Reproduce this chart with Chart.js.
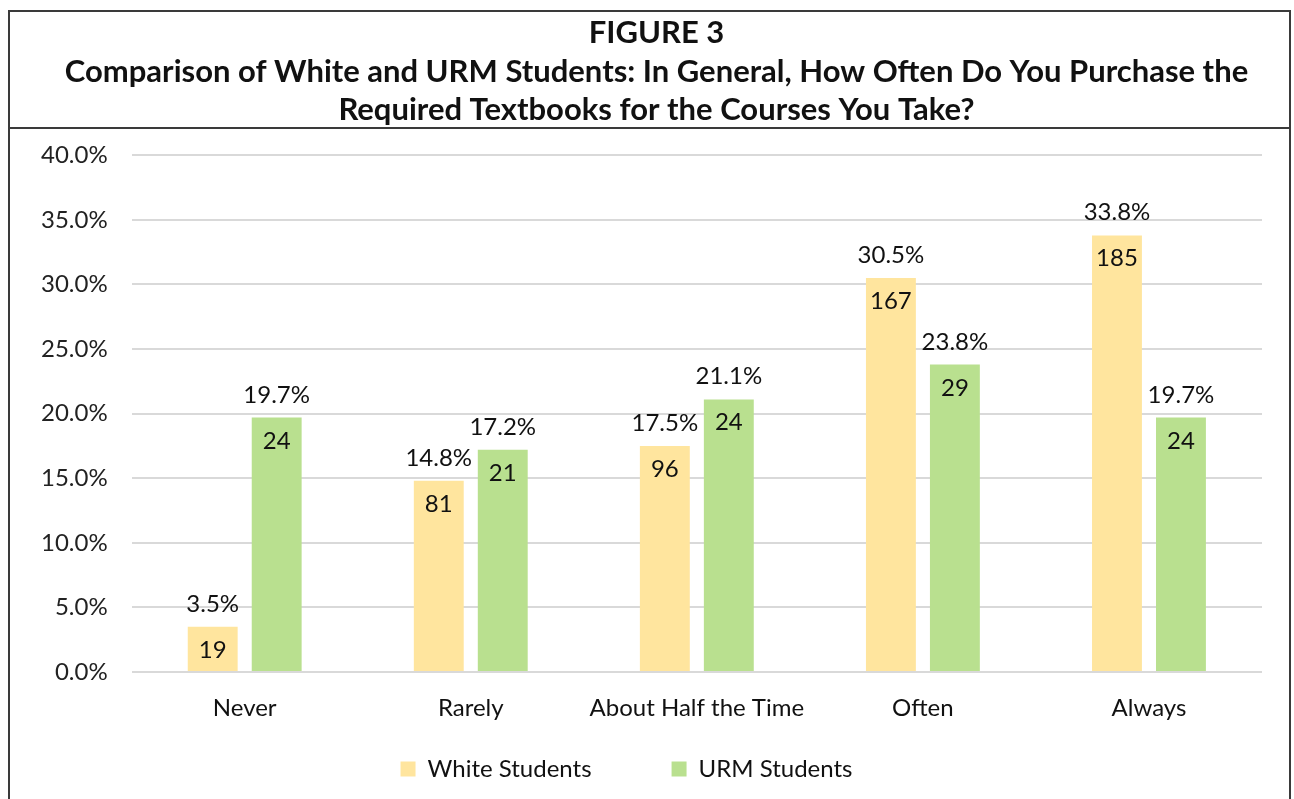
<!DOCTYPE html>
<html>
<head>
<meta charset="utf-8">
<script src="https://cdn.jsdelivr.net/npm/chart.js@4"></script>
<style>
  html, body { margin: 0; padding: 0; background: #fff; }
  #wrap { position: absolute; left: 0; top: 0; width: 1294px; height: 799px; }
</style>
</head>
<body>
<div id="wrap"><canvas id="barChart" width="1294" height="799"></canvas></div>
<script>
// Frecuencia de compra de libros de texto, por grupo de estudiantes
const categories = ['Never', 'Rarely', 'About Half the Time', 'Often', 'Always'];
const whitePct = [3.5, 14.8, 17.5, 30.5, 33.8];
const urmPct = [19.7, 17.2, 21.1, 23.8, 19.7];
const whiteCount = [19, 81, 96, 167, 185];
const urmCount = [24, 21, 24, 29, 24];
const yTicks = [0, 5, 10, 15, 20, 25, 30, 35, 40];

const FONT = 'Lato, "Open Sans", sans-serif';

// marco del cuadro del título
const framePlugin = {
    id: 'frame',
    afterLayout(chart) {
        // el eje x se reduce para que quepa la leyenda; se amplía su zona de recorte
        chart.scales.x.bottom += 70;
        // centrar el título en el marco y mover un poco la leyenda
        chart.titleBlock.left += 34;
        chart.legend.left -= 26;
    },
    afterDraw(chart) {
        const ctx = chart.ctx;
        ctx.save();
        ctx.strokeStyle = '#3a3a3a';
        ctx.lineWidth = 2;
        ctx.beginPath();
        ctx.moveTo(9, 799);
        ctx.lineTo(9, 11);
        ctx.lineTo(1290, 11);
        ctx.lineTo(1290, 799);
        ctx.moveTo(9, 128);
        ctx.lineTo(1290, 128);
        ctx.stroke();
        ctx.restore();
    }
};

// etiquetas: porcentaje encima de la barra, conteo dentro
const labelsPlugin = {
    id: 'barLabels',
    afterDatasetsDraw(chart) {
        const ctx = chart.ctx;
        const counts = [whiteCount, urmCount];
        ctx.save();
        ctx.font = '24px ' + FONT;
        ctx.fillStyle = '#111';
        ctx.textAlign = 'center';
        ctx.textBaseline = 'alphabetic';
        chart.data.datasets.forEach((ds, i) => {
            chart.getDatasetMeta(i).data.forEach((bar, j) => {
                ctx.fillText(ds.data[j].toFixed(1) + '%', bar.x, bar.y - 15);
                ctx.fillText(String(counts[i][j]), bar.x, bar.y + 31);
            });
        });
        ctx.restore();
    }
};

const ctx = document.getElementById('barChart').getContext('2d');
new Chart(ctx, {
    type: 'bar',
    data: {
        labels: categories,
        datasets: [
            {
                label: 'White Students',
                backgroundColor: '#FFE59E',
                data: whitePct,
            },
            {
                label: 'URM Students',
                backgroundColor: '#B9E08F',
                data: urmPct,
            },
        ]
    },
    options: {
        responsive: false,
        animation: false,
        categoryPercentage: 0.566,
        barPercentage: 0.78,
        layout: { padding: { left: 17, right: 32, top: 0, bottom: 8 } },
        plugins: {
            title: {
                display: true,
                text: [
                    'FIGURE 3',
                    'Comparison of White and URM Students: In General, How Often Do You Purchase the',
                    'Required Textbooks for the Courses You Take?'
                ],
                color: '#111',
                font: { family: FONT, size: 31, weight: 'bold', lineHeight: 1.24 },
                padding: { top: 14, bottom: 26 }
            },
            legend: {
                position: 'bottom',
                labels: {
                    color: '#111',
                    font: { family: FONT, size: 24 },
                    boxWidth: 15,
                    boxHeight: 15,
                    padding: 80
                }
            },
            tooltip: { enabled: false }
        },
        scales: {
            x: {
                grid: { display: false, drawTicks: false },
                border: { display: false },
                ticks: { color: '#111', font: { family: FONT, size: 24 }, padding: 22 },
                afterFit: scale => { scale.height = 5; }
            },
            y: {
                min: 0,
                max: 40,
                afterBuildTicks: axis => { axis.ticks = yTicks.map(v => ({ value: v })); },
                grid: { color: '#d9d9d9', lineWidth: 2, drawTicks: false },
                border: { display: false },
                ticks: {
                    color: '#222',
                    font: { family: FONT, size: 24 },
                    padding: 24,
                    callback: v => v.toFixed(1) + '%'
                }
            }
        }
    },
    plugins: [framePlugin, labelsPlugin]
});
</script>
</body>
</html>
